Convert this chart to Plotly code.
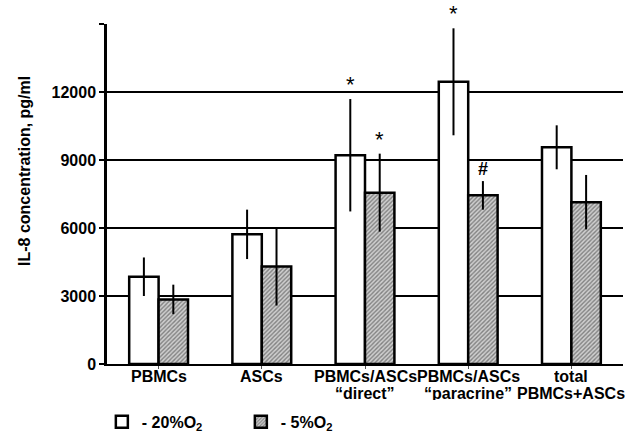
import plotly.graph_objects as go

categories = ["PBMCs", "ASCs", "direct", "paracrine", "total"]
tick_line1 = ["PBMCs", "ASCs", "PBMCs/ASCs", "PBMCs/ASCs", "total"]
tick_line2 = ["", "", "“direct”", "“paracrine”", "PBMCs+ASCs"]
o2_20 = [3850, 5720, 9210, 12450, 9560]
o2_20_err = [850, 1090, 2480, 2360, 970]
o2_5 = [2850, 4300, 7560, 7440, 7140]
o2_5_err = [650, 1720, 1720, 630, 1200]
# significance marks: (category index, series, symbol)
marks = [(2, "20", "*"), (2, "5", "*"), (3, "20", "*"), (3, "5", "#")]

FONT = "Liberation Sans, Arial, sans-serif"
xs = list(range(len(categories)))

fig = go.Figure()
fig.add_trace(go.Bar(
    x=xs, y=o2_20, name="- 20%O<sub>2</sub>",
    marker=dict(color="white", line=dict(color="black", width=2.5)),
    error_y=dict(type="data", array=o2_20_err, visible=True, color="black", thickness=2, width=0),
))
fig.add_trace(go.Bar(
    x=xs, y=o2_5, name="- 5%O<sub>2</sub>",
    marker=dict(color="#c0c0c0", line=dict(color="black", width=2.5),
                pattern=dict(shape="/", fgcolor="#333333", bgcolor="#cfcfcf", size=3, solidity=0.45)),
    error_y=dict(type="data", array=o2_5_err, visible=True, color="black", thickness=2, width=0),
))

bargap = 0.43
half = (1 - bargap) / 4
for i, s, sym in marks:
    if s == "20":
        xv, yv = i - half, o2_20[i] + o2_20_err[i]
    else:
        xv, yv = i + half, o2_5[i] + o2_5_err[i]
    fig.add_annotation(x=xv, y=yv, text=sym, showarrow=False, yanchor="bottom",
                       font=dict(family=FONT, size=22 if sym == "*" else 18,
                                 weight="normal" if sym == "*" else "bold", color="black"))

# category labels (two lines, tight spacing as in the original)
for i, (t1, t2) in enumerate(zip(tick_line1, tick_line2)):
    fig.add_annotation(x=i, y=0, yref="paper", yanchor="middle", yshift=-12, text=t1,
                       showarrow=False, height=14, valign="middle",
                       font=dict(family=FONT, size=16, weight="bold", color="black"))
    if t2:
        fig.add_annotation(x=i, y=0, yref="paper", yanchor="middle", yshift=-29, text=t2,
                           showarrow=False, height=14, valign="middle",
                           font=dict(family=FONT, size=16, weight="bold", color="black"))

# y-axis title
fig.add_annotation(x=-83 / 516, xref="paper", y=(364 - 171) / 340, yref="paper",
                   text="IL-8 concentration, pg/ml", textangle=-90, showarrow=False,
                   xanchor="center", yanchor="middle",
                   font=dict(family=FONT, size=16, weight="bold", color="black"))

yt = [0, 3000, 6000, 9000, 12000, 15000]
fig.update_layout(
    width=635, height=432,
    margin=dict(l=107, r=12, t=24, b=68, autoexpand=False),
    paper_bgcolor="white", plot_bgcolor="white",
    barmode="group", bargap=bargap, bargroupgap=0,
    font=dict(family=FONT, color="black"),
    showlegend=True,
    legend=dict(orientation="h", x=-0.01, xanchor="left", y=-0.17, yanchor="middle",
                font=dict(family=FONT, size=16, weight="bold"), entrywidth=94,
                traceorder="normal"),
    xaxis=dict(
        tickmode="array", tickvals=xs, range=[-0.5, 4.5], showticklabels=False,
        showline=True, linecolor="black", linewidth=2, automargin=False,
        ticks="outside", ticklen=3, tickwidth=1, tickcolor="#555",
        tickson="boundaries",
        showgrid=False, zeroline=False,
    ),
    yaxis=dict(
        range=[0, 15000], tickmode="array", tickvals=yt, automargin=False,
        ticktext=[str(v) if v < 15000 else "" for v in yt],
        showline=True, linecolor="black", linewidth=2.5,
        ticks="outside", ticklen=5, tickwidth=2, tickcolor="black",
        showgrid=True, gridcolor="black", gridwidth=1.5, zeroline=False,
        tickfont=dict(family=FONT, size=16, weight="bold", color="black"),
    ),
)
fig.write_html("out.html")
